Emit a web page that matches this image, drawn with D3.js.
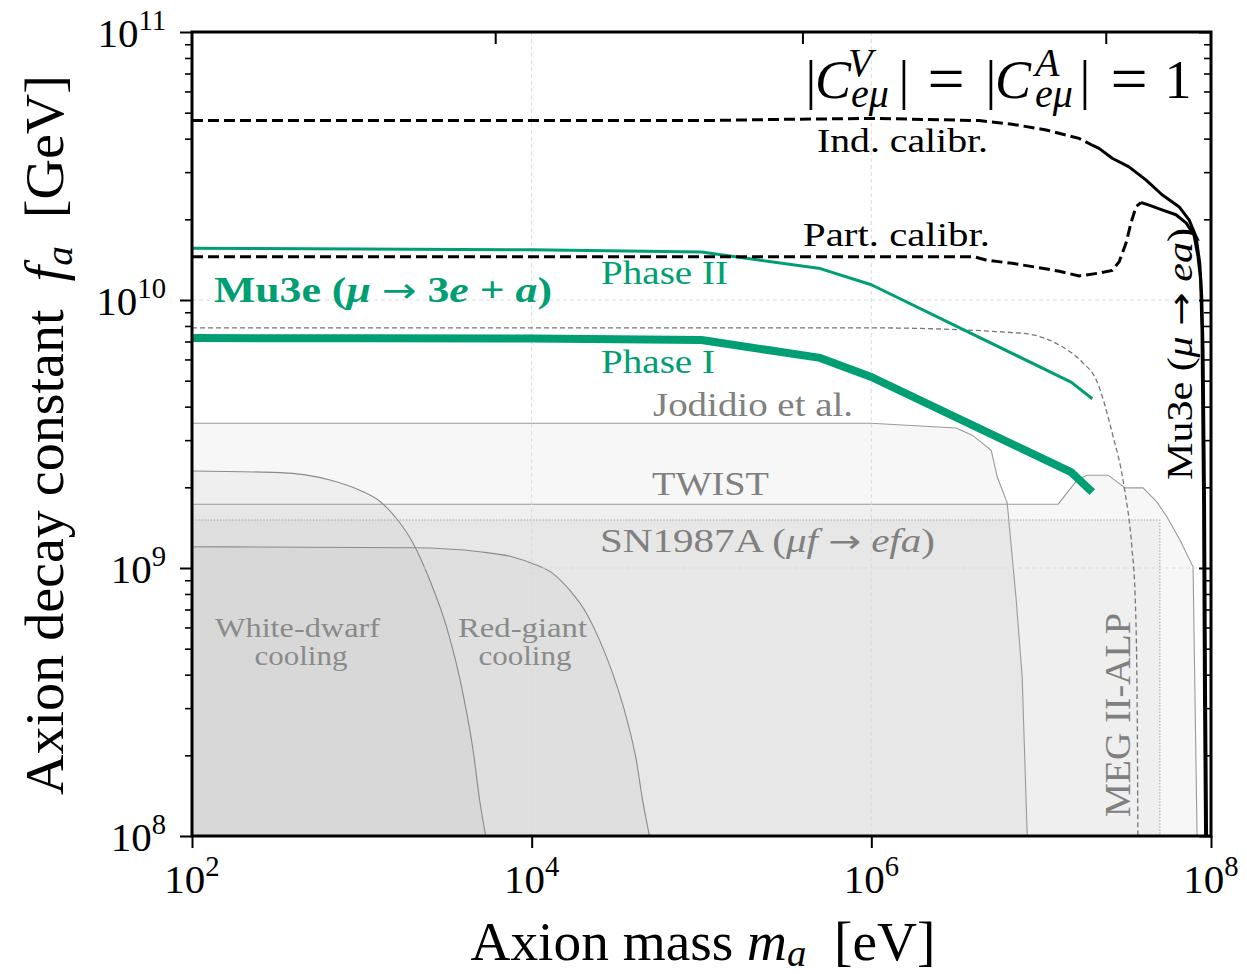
<!DOCTYPE html>
<html>
<head>
<meta charset="utf-8">
<title>Axion decay constant limits</title>
<script src="https://cdn.jsdelivr.net/npm/d3@7"></script>
<style>
  html, body { margin: 0; padding: 0; background: #fff; }
  svg text { font-family: "Liberation Serif", "Times New Roman", serif; white-space: pre; }
</style>
</head>
<body>
<svg id="chart" width="1247" height="974"></svg>
<script>
// ---------- axes ----------
const xTicks = [1e2, 1e4, 1e6, 1e8];
const xTickExps = ["2", "4", "6", "8"];
const yTicks = [1e8, 1e9, 1e10, 1e11];
const yTickExps = ["8", "9", "10", "11"];
const topTicks = [6.1e3, 3.93e5, 2.4e7];
const gridX = [1e4, 1e6];
const gridY = [1e9, 1e10];

// ---------- Mu3e (mu -> e a), individual calibration ----------
const indMass = [1e2, 1e5, 2.88e5, 1.11e6, 4.31e6, 6.75e6, 1.07e7, 1.67e7, 2.0e7, 2.19e7, 2.62e7, 3.29e7, 4.15e7, 5.15e7, 6.48e7, 7.43e7, 8.17e7, 8.59e7, 8.82e7, 8.98e7, 9.16e7, 9.29e7, 9.42e7];
const indFa   = [4.67e10, 4.67e10, 4.72e10, 4.76e10, 4.67e10, 4.53e10, 4.31e10, 4.01e10, 3.78e10, 3.68e10, 3.38e10, 3.14e10, 2.80e10, 2.47e10, 2.23e10, 1.99e10, 1.72e10, 1.37e10, 1.03e10, 6.5e9, 1.79e9, 3.21e8, 1.0e8];
const indSolidFrom = 2.0e7;

// ---------- Mu3e (mu -> e a), partial calibration ----------
const partMass = [1e2, 1e5, 4.03e6, 4.73e6, 6.75e6, 9.73e6, 1.28e7, 1.67e7, 2.19e7, 2.62e7, 2.88e7, 3.16e7, 3.38e7, 3.62e7, 3.87e7, 4.32e7, 5.15e7, 6.22e7, 7.13e7, 7.94e7, 8.39e7, 8.69e7, 8.85e7, 9.04e7, 9.16e7, 9.29e7];
const partFa   = [1.45e10, 1.45e10, 1.45e10, 1.41e10, 1.37e10, 1.32e10, 1.28e10, 1.23e10, 1.26e10, 1.29e10, 1.39e10, 1.63e10, 1.94e10, 2.23e10, 2.31e10, 2.26e10, 2.17e10, 2.08e10, 1.94e10, 1.75e10, 1.45e10, 1.19e10, 7.73e9, 1.79e9, 3.21e8, 1.0e8];
const partSolidFrom = 3.87e7;

// ---------- Mu3e (mu -> 3e + a) ----------
const phaseMass = [1e2, 1e3, 1e4, 1e5, 5e5, 1e6, 1.5e7, 2e7];
const phase2Fa  = [1.56e10, 1.55e10, 1.54e10, 1.51e10, 1.31e10, 1.14e10, 4.94e9, 4.28e9];
const phase1Fa  = [7.21e9, 7.20e9, 7.18e9, 7.09e9, 6.08e9, 5.16e9, 2.28e9, 1.92e9];

// ---------- MEG II-ALP projection ----------
const megMass = [1e2, 1e6, 7.43e6, 1.28e7, 1.74e7, 2.11e7, 2.62e7, 3.08e7, 3.43e7, 3.57e7, 3.67e7, 3.71e7];
const megFa   = [7.87e9, 7.87e9, 7.53e9, 6.79e9, 5.87e9, 5.03e9, 3.19e9, 2.01e9, 1.17e9, 8.07e8, 3.42e8, 1.0e8];

// ---------- excluded regions ----------
const jodMass = [1e2, 1e6, 3.16e6, 3.93e6, 5.08e6, 5.51e6, 6.31e6, 7.13e6, 7.73e6, 8.28e6];
const jodFa   = [3.47e9, 3.47e9, 3.33e9, 3.13e9, 2.75e9, 2.19e9, 1.75e9, 7.6e8, 3.92e8, 1.0e8];

const twistMass = [1e2, 1.26e7, 1.63e7, 1.86e7, 2.48e7, 3.12e7, 3.98e7, 4.81e7, 5.51e7, 6.58e7, 7.84e7, 8.28e7];
const twistFa   = [1.73e9, 1.73e9, 2.13e9, 2.22e9, 2.22e9, 1.99e9, 1.99e9, 1.76e9, 1.55e9, 1.27e9, 1.01e9, 1.0e8];

const snMass = [1e2, 5.0e7, 5.0e7];
const snFa   = [1.51e9, 1.51e9, 1.0e8];

const wdMass = [1e2, 3.30e2, 6.49e2, 9.73e2, 1.28e3, 1.60e3, 2.00e3, 2.51e3, 3.15e3, 3.94e3, 4.52e3, 4.94e3, 5.36e3];
const wdFa   = [2.30e9, 2.27e9, 2.13e9, 1.95e9, 1.77e9, 1.53e9, 1.24e9, 9.02e8, 6.04e8, 3.40e8, 2.09e8, 1.36e8, 1.0e8];

const rgMass = [1e2, 2.0e3, 4.94e3, 7.73e3, 1.01e4, 1.33e4, 1.67e4, 2.10e4, 2.51e4, 2.99e4, 3.60e4, 4.13e4, 4.50e4, 4.94e4];
const rgFa   = [1.20e9, 1.19e9, 1.15e9, 1.10e9, 1.04e9, 9.55e8, 8.28e8, 6.78e8, 5.38e8, 4.06e8, 2.79e8, 1.92e8, 1.36e8, 1.0e8];

// ---------- drawing ----------
const W = 1247, H = 974;
const L = 192, R = 1211, T = 32, B = 836;
const GREEN = "#009e73";

const svg = d3.select("#chart");
svg.append("rect").attr("width", W).attr("height", H).attr("fill", "#fff");

const x = d3.scaleLog().domain([1e2, 1e8]).range([L, R]);
const y = d3.scaleLog().domain([1e8, 1e11]).range([B, T]);

svg.append("defs").append("clipPath").attr("id", "plotclip")
  .append("rect").attr("x", L).attr("y", T).attr("width", R - L).attr("height", B - T);

const plot = svg.append("g").attr("clip-path", "url(#plotclip)");

const zip = (ms, fs) => ms.map((m, i) => [m, fs[i]]);
const line = (curve) => d3.line().x(d => x(d[0])).y(d => y(d[1])).curve(curve || d3.curveLinear);
const area = (curve) => d3.area().x(d => x(d[0])).y0(B).y1(d => y(d[1])).curve(curve || d3.curveLinear);

// shaded exclusion regions (translucent, so overlaps darken)
const regions = [
  { pts: zip(jodMass, jodFa), curve: d3.curveLinear, stroke: "#9a9a9a", dash: null },
  { pts: zip(twistMass, twistFa), curve: d3.curveLinear, stroke: "#9a9a9a", dash: null },
  { pts: zip(snMass, snFa), curve: d3.curveLinear, stroke: "#a8a8a8", dash: "1.5,1.6" },
  { pts: zip(rgMass, rgFa), curve: d3.curveMonotoneX, stroke: "#8a8a8a", dash: null },
  { pts: zip(wdMass, wdFa), curve: d3.curveMonotoneX, stroke: "#8a8a8a", dash: null }
];
regions.forEach(r => {
  plot.append("path").attr("d", area(r.curve)(r.pts))
    .attr("fill", "#000").attr("fill-opacity", 0.03).attr("stroke", "none");
});
regions.forEach(r => {
  plot.append("path").attr("d", line(r.curve)(r.pts))
    .attr("fill", "none").attr("stroke", r.stroke).attr("stroke-width", 1.1)
    .attr("stroke-dasharray", r.dash);
});

// grid
plot.selectAll(".gx").data(gridX).join("line")
  .attr("x1", d => x(d)).attr("x2", d => x(d)).attr("y1", T).attr("y2", B)
  .attr("stroke", "#d9d9d9").attr("stroke-width", 0.9).attr("stroke-dasharray", "4,3");
plot.selectAll(".gy").data(gridY).join("line")
  .attr("y1", d => y(d)).attr("y2", d => y(d)).attr("x1", L).attr("x2", R)
  .attr("stroke", "#d9d9d9").attr("stroke-width", 0.9).attr("stroke-dasharray", "4,3");

// MEG II-ALP projection
plot.append("path").attr("d", line(d3.curveMonotoneX)(zip(megMass, megFa)))
  .attr("fill", "none").attr("stroke", "#777").attr("stroke-width", 1.3).attr("stroke-dasharray", "5,3");

// Mu3e phases
plot.append("path").attr("d", line()(zip(phaseMass, phase2Fa)))
  .attr("fill", "none").attr("stroke", GREEN).attr("stroke-width", 3).attr("stroke-linejoin", "round");
plot.append("path").attr("d", line()(zip(phaseMass, phase1Fa)))
  .attr("fill", "none").attr("stroke", GREEN).attr("stroke-width", 8).attr("stroke-linejoin", "round");

// Mu3e mu -> e a limits: dashed below the split mass, solid above
function splitCurve(ms, fs, split) {
  const pts = zip(ms, fs);
  plot.append("path").attr("d", line()(pts.filter(d => d[0] <= split)))
    .attr("fill", "none").attr("stroke", "#000").attr("stroke-width", 3).attr("stroke-dasharray", "11,5");
  plot.append("path").attr("d", line()(pts.filter(d => d[0] >= split)))
    .attr("fill", "none").attr("stroke", "#000").attr("stroke-width", 3).attr("stroke-linejoin", "round");
}
splitCurve(indMass, indFa, indSolidFrom);
splitCurve(partMass, partFa, partSolidFrom);

// ---------- text helper ----------
// parts: plain strings or [string, kind]; kind may hold "i", "sub", "sup", "arrow"
function richText(g, o) {
  const size = o.size;
  const t = g.append("text")
    .attr("transform", `translate(${o.x},${o.y})` + (o.rotate ? ` rotate(${o.rotate})` : ""))
    .attr("font-size", size).attr("fill", o.fill || "#000")
    .attr("text-anchor", o.anchor || "start").attr("font-weight", o.weight || "normal");
  let shift = 0;
  o.parts.forEach(p => {
    const [str, kind] = Array.isArray(p) ? p : [p, ""];
    const ts = t.append("tspan").text(str);
    let target = 0;
    if (kind.includes("sub")) { target = size * (o.subDrop || 0.22); ts.attr("font-size", size * 0.7); }
    if (kind.includes("sup")) { target = -size * (o.supRaise || 0.4); ts.attr("font-size", size * 0.7); }
    if (target !== shift) { ts.attr("dy", target - shift); shift = target; }
    if (kind.includes("i")) ts.attr("font-style", "italic");
    if (kind.includes("arrow")) ts.attr("font-family", "DejaVu Sans").attr("font-weight", "normal")
      .attr("font-size", size * 0.95);
  });
  if (o.len) t.attr("textLength", o.len).attr("lengthAdjust", "spacingAndGlyphs");
  return t;
}

const labels = svg.append("g");

// curve labels
richText(labels, { x: 817, y: 152, size: 33, len: 171, parts: ["Ind. calibr."] });
richText(labels, { x: 803, y: 246, size: 33, len: 187, parts: ["Part. calibr."] });
richText(labels, { x: 601, y: 284, size: 33, len: 127, fill: GREEN, parts: ["Phase II"] });
richText(labels, { x: 601, y: 373, size: 33, len: 114, fill: GREEN, parts: ["Phase I"] });
richText(labels, { x: 214, y: 302, size: 36, len: 338, fill: GREEN, weight: "bold",
  parts: ["Mu3e (", ["μ", "i"], " ", ["→", "arrow"], " 3", ["e", "i"], " + ", ["a", "i"], ")"] });
richText(labels, { x: 653, y: 416, size: 33, len: 200, fill: "#808080", parts: ["Jodidio et al."] });
richText(labels, { x: 652, y: 495, size: 33, len: 117, fill: "#808080", parts: ["TWIST"] });
richText(labels, { x: 600, y: 552, size: 33, len: 335, fill: "#808080",
  parts: ["SN1987A (", ["μf", "i"], " ", ["→", "arrow"], " ", ["efa", "i"], ")"] });
richText(labels, { x: 215, y: 637, size: 27, len: 165, fill: "#8a8a8a", parts: ["White-dwarf"] });
richText(labels, { x: 301, y: 665, size: 27, len: 93, fill: "#8a8a8a", anchor: "middle", parts: ["cooling"] });
richText(labels, { x: 458, y: 637, size: 27, len: 129, fill: "#8a8a8a", parts: ["Red-giant"] });
richText(labels, { x: 525, y: 665, size: 27, len: 93, fill: "#8a8a8a", anchor: "middle", parts: ["cooling"] });
richText(labels, { x: 1130, y: 817, size: 35, len: 204, fill: "#808080", rotate: -90, parts: ["MEG II-ALP"] });
richText(labels, { x: 1192, y: 480, size: 35, len: 252, rotate: -90,
  parts: ["Mu3e (", ["μ", "i"], " ", ["→", "arrow"], " ", ["ea", "i"], ")"] });

// coupling statement, top right
const ts = 54, ss = 40;
const tg = svg.append("g");
const put = (str, xx, yy, size, italic, anchor) => tg.append("text")
  .attr("x", xx).attr("y", yy).attr("font-size", size)
  .attr("font-style", italic ? "italic" : "normal")
  .attr("text-anchor", anchor || "start").text(str);
put("|", 811, 98, ts, false, "middle");
put("C", 815, 98, ts, true);
put("V", 848, 76, ss, true);
put("eμ", 851, 107, ss, true);
put("|", 904, 98, ts, false, "middle");
put("=", 946, 101, 66, false, "middle");
put("|", 991, 98, ts, false, "middle");
put("C", 995, 98, ts, true);
put("A", 1035, 76, ss, true);
put("eμ", 1035, 107, ss, true);
put("|", 1085, 98, ts, false, "middle");
put("=", 1129, 101, 66, false, "middle");
put("1", 1178, 98, ts, false, "middle");

// ---------- axes ----------
const minorY = [];
[1e8, 1e9, 1e10].forEach(d => { for (let k = 2; k <= 9; k++) minorY.push(k * d); });

function styleAxis(g, w) {
  g.select(".domain").remove();
  g.selectAll("line").attr("stroke", "#000").attr("stroke-width", w);
  g.selectAll("text").remove();
}
svg.append("g").attr("transform", `translate(0,${B})`)
  .call(d3.axisBottom(x).tickValues(xTicks).tickSize(12).tickFormat(""))
  .call(g => styleAxis(g, 2));
svg.append("g").attr("transform", `translate(0,${T})`)
  .call(d3.axisTop(x).tickValues(topTicks).tickSize(-12).tickFormat(""))
  .call(g => styleAxis(g, 2));
svg.append("g").attr("transform", `translate(${L},0)`)
  .call(d3.axisLeft(y).tickValues(yTicks).tickSize(12).tickFormat(""))
  .call(g => styleAxis(g, 2));
svg.append("g").attr("transform", `translate(${L},0)`)
  .call(d3.axisLeft(y).tickValues(minorY).tickSize(7).tickFormat(""))
  .call(g => styleAxis(g, 1.6));
svg.append("g").attr("transform", `translate(${R},0)`)
  .call(d3.axisRight(y).tickValues(yTicks).tickSize(-12).tickFormat(""))
  .call(g => styleAxis(g, 2));
svg.append("g").attr("transform", `translate(${R},0)`)
  .call(d3.axisRight(y).tickValues(minorY).tickSize(-7).tickFormat(""))
  .call(g => styleAxis(g, 1.6));

// spines
svg.append("rect").attr("x", L).attr("y", T).attr("width", R - L).attr("height", B - T)
  .attr("fill", "none").attr("stroke", "#000").attr("stroke-width", 3);

// tick labels
xTicks.forEach((v, i) => richText(svg, { x: x(v), y: 893, size: 41, anchor: "middle", supRaise: 0.42,
  parts: ["10", [xTickExps[i], "sup"]] }));
yTicks.forEach((v, i) => richText(svg, { x: 166, y: y(v) + 15, size: 41, anchor: "end", supRaise: 0.42,
  parts: ["10", [yTickExps[i], "sup"]] }));

// axis titles
richText(svg, { x: 703, y: 960, size: 54, len: 465, anchor: "middle", subDrop: 0.12,
  parts: ["Axion mass ", ["m", "i"], ["a", "i sub"], "  [eV]"] });
richText(svg, { x: 63, y: 435, size: 54, len: 720, anchor: "middle", rotate: -90, subDrop: 0.16,
  parts: ["Axion decay constant  ", ["f", "i"], ["a", "i sub"], "  [GeV]"] });
</script>
</body>
</html>
